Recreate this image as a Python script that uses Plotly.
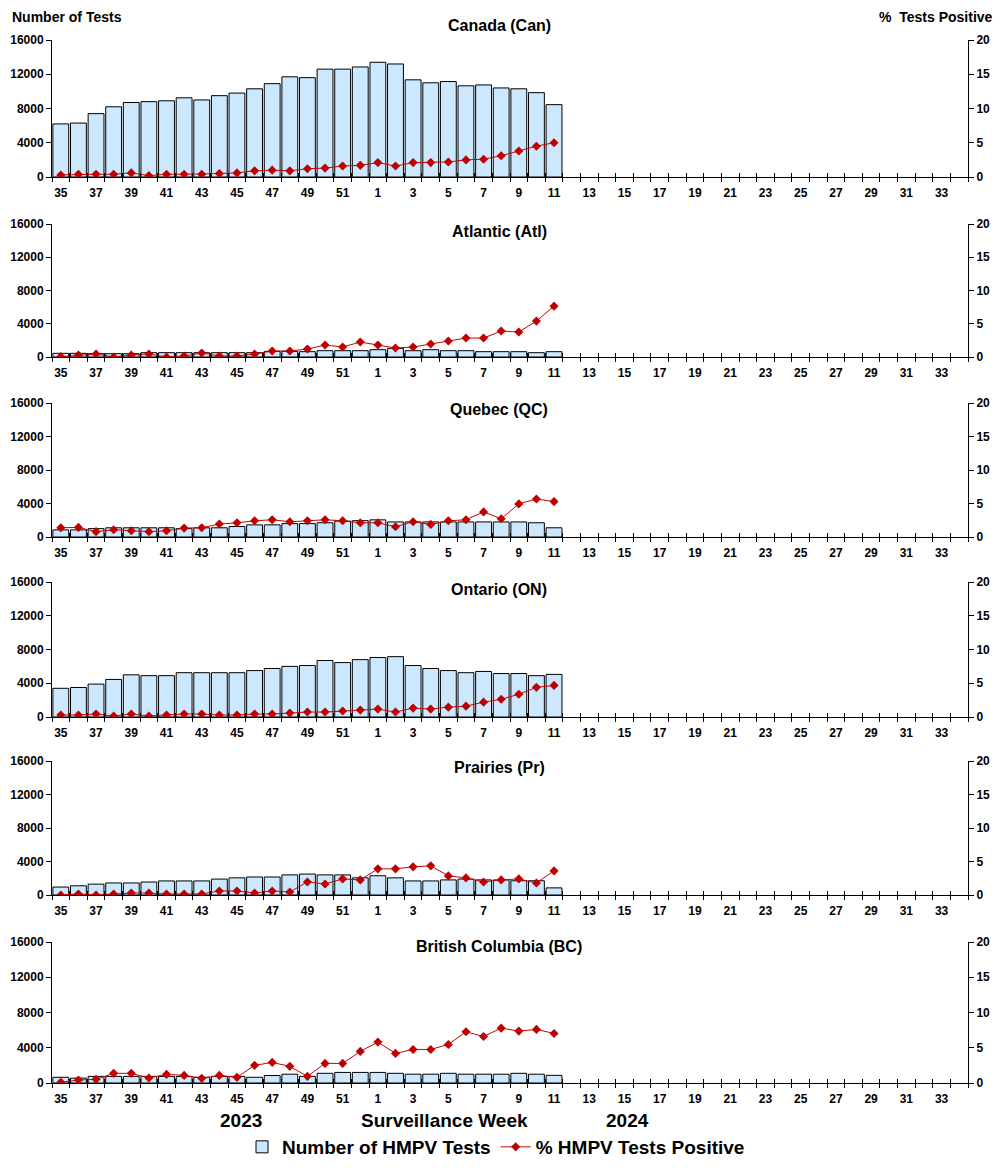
import plotly.graph_objects as go

weeks = [str(w) for w in list(range(35, 53)) + list(range(1, 35))]

regions = ["Canada (Can)", "Atlantic (Atl)", "Quebec (QC)", "Ontario (ON)",
           "Prairies (Pr)", "British Columbia (BC)"]

tests_can = [6200, 6300, 7400, 8200, 8700, 8800, 8900, 9250, 9000, 9500, 9800, 10300,
             10900, 11700, 11600, 12600, 12600, 12850, 13400, 13200, 11350, 11000, 11150,
             10650, 10750, 10400, 10300, 9850, 8450]
pos_can = [0.3, 0.4, 0.4, 0.4, 0.6, 0.2, 0.4, 0.4, 0.4, 0.5, 0.6, 0.9, 1.0, 0.9, 1.2,
           1.3, 1.6, 1.7, 2.1, 1.6, 2.1, 2.1, 2.2, 2.5, 2.6, 3.1, 3.8, 4.5, 5.0]

tests_atl = [440, 440, 400, 400, 400, 520, 520, 520, 520, 520, 520, 520, 680, 680, 640,
             760, 760, 760, 880, 1040, 760, 880, 760, 760, 640, 640, 640, 520, 640]
pos_atl = [0.05, 0.3, 0.45, 0.0, 0.3, 0.45, 0.0, 0.15, 0.6, 0.15, 0.15, 0.45, 0.9, 0.9,
           1.2, 1.8, 1.5, 2.25, 1.8, 1.35, 1.5, 1.95, 2.4, 2.85, 2.85, 3.9, 3.75, 5.4, 7.65]

tests_qc = [850, 850, 1000, 1100, 1100, 1100, 1100, 1000, 1100, 1100, 1250, 1450, 1450,
            1600, 1600, 1700, 1900, 1950, 2050, 1800, 1800, 1800, 1800, 1800, 1800, 1800,
            1800, 1700, 1100]
pos_qc = [1.38, 1.43, 0.8, 1.09, 0.94, 0.8, 0.94, 1.33, 1.38, 1.93, 2.12, 2.42, 2.57,
          2.27, 2.42, 2.57, 2.42, 2.12, 2.12, 1.53, 2.27, 1.88, 2.42, 2.57, 3.75, 2.72,
          4.94, 5.68, 5.28]

tests_on = [3400, 3500, 3900, 4450, 5000, 4900, 4900, 5250, 5250, 5250, 5250, 5500, 5750,
            6000, 6100, 6700, 6450, 6800, 7050, 7150, 6100, 5750, 5500, 5250, 5400, 5150,
            5150, 4900, 5050]
pos_on = [0.3, 0.3, 0.44, 0.15, 0.44, 0.15, 0.3, 0.44, 0.44, 0.3, 0.3, 0.44, 0.44, 0.59,
          0.73, 0.73, 0.88, 1.02, 1.17, 0.73, 1.32, 1.17, 1.46, 1.61, 2.2, 2.63, 3.37,
          4.39, 4.68]

tests_pr = [950, 1100, 1300, 1440, 1440, 1550, 1680, 1680, 1680, 1900, 2050, 2150, 2150,
            2400, 2500, 2400, 2400, 2050, 2300, 2050, 1680, 1680, 1800, 1900, 1800, 1800,
            1700, 1700, 850]
pos_pr = [0.0, 0.15, 0.0, 0.15, 0.3, 0.3, 0.15, 0.15, 0.15, 0.6, 0.6, 0.3, 0.6, 0.45,
          1.95, 1.65, 2.4, 2.25, 3.9, 3.9, 4.2, 4.35, 2.85, 2.55, 1.95, 2.25, 2.4, 1.8, 3.6]

tests_bc = [650, 550, 750, 750, 750, 750, 750, 750, 650, 750, 750, 650, 850, 1000, 750,
            1100, 1200, 1200, 1200, 1100, 1000, 1000, 1100, 1000, 1000, 1000, 1100, 1000, 870]
pos_bc = [0.1, 0.42, 0.52, 1.37, 1.37, 0.71, 1.23, 1.08, 0.66, 1.08, 0.8, 2.5, 2.92,
          2.36, 0.94, 2.78, 2.78, 4.48, 5.8, 4.2, 4.76, 4.76, 5.47, 7.26, 6.6, 7.78, 7.36,
          7.6, 7.03]

tests_all = [tests_can, tests_atl, tests_qc, tests_on, tests_pr, tests_bc]
pos_all = [pos_can, pos_atl, pos_qc, pos_on, pos_pr, pos_bc]

left_ticks = [0, 4000, 8000, 12000, 16000]
right_ticks = [0, 5, 10, 15, 20]

# figure sized to fit inside the page's default 8px body margin
OFF = 8
W, H = 1002 - 2 * OFF, 1170 - 2 * OFF


def px(x):
    return (x - OFF) / W


def py(y):
    return 1 - (y - OFF) / H


x0_px, x1_px = 52, 968
panels_px = [(40, 177), (224, 357), (403, 537), (582, 717), (761, 895), (942, 1083)]
title_y_px = [26, 231, 410, 589, 767, 946]

FONT = "Liberation Sans, Arial, sans-serif"
BAR_FILL = "#CCE8FF"
LINE_COL = "#C00000"
TICKFONT = dict(family=FONT, size=12, color="black", weight="bold")

fig = go.Figure()
layout = {}
n_cat = len(weeks)
positions = list(range(n_cat))
boundaries = [p - 0.5 for p in range(n_cat + 1)]
NP = len(tests_all)

for i, (tests, pos) in enumerate(zip(tests_all, pos_all)):
    k = i + 1
    ko = k + NP
    xname = "x" if k == 1 else f"x{k}"
    xover = f"x{ko}"
    yl = "y" if k == 1 else f"y{2*k-1}"
    yr = f"y{2*k}"
    fig.add_trace(go.Bar(
        x=positions[:len(tests)], y=tests, xaxis=xname, yaxis=yl,
        marker=dict(color=BAR_FILL, line=dict(color="black", width=1)),
        name="Number of HMPV Tests", legendgroup="tests", showlegend=(k == 1),
    ))
    fig.add_trace(go.Scatter(
        x=positions[:len(pos)], y=pos, xaxis=xover, yaxis=yr, mode="lines+markers",
        line=dict(color="#CC0000", width=1),
        marker=dict(symbol="diamond", size=7, color=LINE_COL),
        name="% HMPV Tests Positive", legendgroup="pos", showlegend=(k == 1),
    ))
    top, bot = panels_px[i]
    dom = [py(bot), py(top)]
    xk = "xaxis" if k == 1 else f"xaxis{k}"
    ylk = "yaxis" if k == 1 else f"yaxis{2*k-1}"
    yrk = f"yaxis{2*k}"
    # main x axis: labels at category centres, outside ticks at boundaries
    layout[xk] = dict(
        domain=[px(x0_px), px(x1_px)], anchor=yl, range=[-0.5, n_cat - 0.5],
        tickmode="array", tickvals=positions[::2], ticktext=weeks[::2],
        ticks="", showline=True, linecolor="black", linewidth=1, showgrid=False,
        zeroline=False, ticklabelstandoff=5, automargin=False,
        minor=dict(tick0=-0.5, dtick=1, ticks="outside", ticklen=4,
                   tickcolor="black", tickwidth=1, showgrid=False),
        tickfont=TICKFONT,
    )
    # overlay x axis (line series): inside ticks at boundaries, no labels
    layout[f"xaxis{ko}"] = dict(
        domain=[px(x0_px), px(x1_px)], anchor=yl, overlaying=xname,
        range=[-0.5, n_cat - 0.5], tickmode="array", tickvals=boundaries,
        showticklabels=False, ticks="inside", ticklen=4, tickcolor="black",
        showline=False, showgrid=False, zeroline=False, automargin=False,
    )
    layout[ylk] = dict(
        domain=dom, anchor=xname, range=[0, 16000], tickmode="array",
        tickvals=left_ticks, ticktext=[str(v) for v in left_ticks],
        ticks="outside", ticklen=5, tickcolor="black", automargin=False,
        showline=True, linecolor="black", linewidth=1, showgrid=False, zeroline=False,
        tickfont=TICKFONT,
    )
    layout[yrk] = dict(
        overlaying=yl, side="right", anchor=xname, range=[0, 20], tickmode="array",
        tickvals=right_ticks, ticktext=[str(v) for v in right_ticks],
        ticks="outside", ticklen=5, tickcolor="black", automargin=False,
        showline=True, linecolor="black", linewidth=1, showgrid=False, zeroline=False,
        tickfont=TICKFONT,
    )

annotations = []
for name, ty in zip(regions, title_y_px):
    annotations.append(dict(
        text=name, x=px(499), y=py(ty), xref="paper", yref="paper",
        xanchor="center", yanchor="middle", showarrow=False,
        font=dict(family=FONT, size=16, color="black", weight="bold"),
    ))
annotations.append(dict(text="Number of Tests", x=px(10), y=py(17), xref="paper",
                        yref="paper", xanchor="left", yanchor="middle", showarrow=False,
                        font=dict(family=FONT, size=14, color="black", weight="bold")))
annotations.append(dict(text="%  Tests Positive", x=px(995), y=py(17), xref="paper",
                        yref="paper", xanchor="right", yanchor="middle", showarrow=False,
                        font=dict(family=FONT, size=14, color="black", weight="bold")))
for txt, cx in [("2023", 241), ("Surveillance Week", 444), ("2024", 627)]:
    annotations.append(dict(text=txt, x=px(cx), y=py(1120), xref="paper",
                            yref="paper", xanchor="center", yanchor="middle",
                            showarrow=False,
                            font=dict(family=FONT, size=19, color="black", weight="bold")))

fig.update_layout(
    **layout,
    width=W, height=H, margin=dict(l=0, r=0, t=0, b=0, pad=0, autoexpand=False),
    paper_bgcolor="white", plot_bgcolor="white",
    bargap=0.1, annotations=annotations,
    legend=dict(orientation="h", x=px(496), y=py(1147), xanchor="center",
                yanchor="middle", font=dict(family=FONT, size=19, color="black",
                                            weight="bold"),
                itemwidth=30, tracegroupgap=0),
)

fig.write_html("out.html")
